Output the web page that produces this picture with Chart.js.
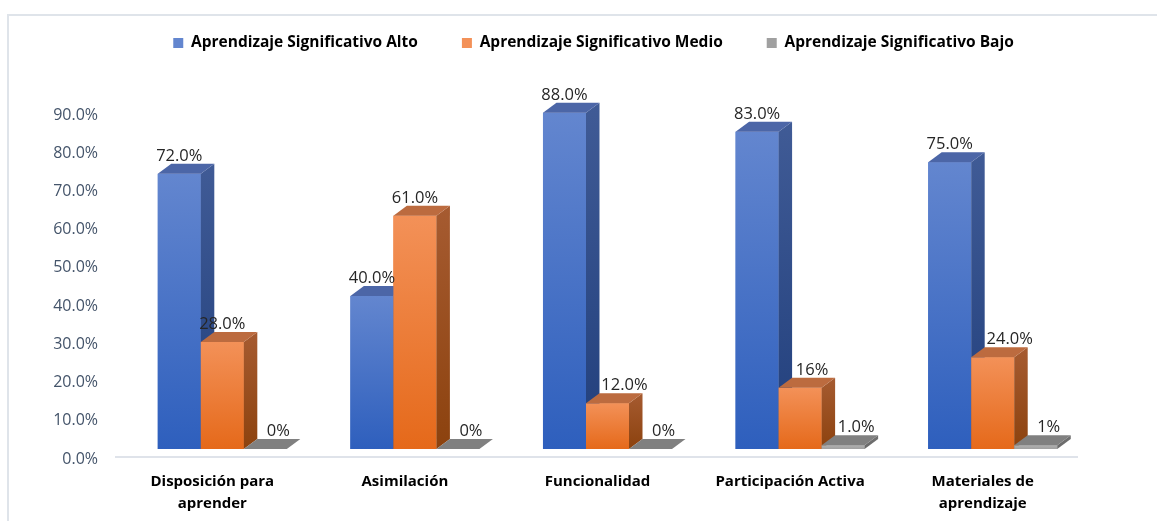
<!DOCTYPE html>
<html><head><meta charset="utf-8">
<script src="https://cdn.jsdelivr.net/npm/chart.js@4.4.1/dist/chart.umd.min.js"></script>
<style>
html,body{margin:0;padding:0;background:#fff;overflow:hidden}
#frame{position:absolute;left:7px;top:14px;width:1200px;height:600px;border-left:2px solid #dfe4ea;border-top:2px solid #dfe4ea}
#wrap{position:absolute;left:0;top:0;width:1157px;height:521px}
</style></head><body>
<div id="frame"></div>
<div id="wrap"><canvas id="c"></canvas></div>
<script>
// ---- data ----
const categories = [['Disposición para', 'aprender'], 'Asimilación', 'Funcionalidad', 'Participación Activa', ['Materiales de', 'aprendizaje']];
const seriesNames = ['Aprendizaje Significativo Alto', 'Aprendizaje Significativo Medio', 'Aprendizaje Significativo Bajo'];
const alto  = [72, 40, 88, 83, 75];
const medio = [28, 61, 12, 16, 24];
const bajo  = [0, 0, 0, 1, 1];
// decimals printed in each value label
const altoDecimals  = [1, 1, 1, 1, 1];
const medioDecimals = [1, 1, 1, 0, 1];
const bajoDecimals  = [0, 0, 0, 1, 0];
const yMax = 90, yStep = 10;

// ---- look ----
const FONT = '"Open Sans", "Liberation Sans", sans-serif';
const DX = 13.5, DY = 10;            // 3D depth of every bar
const looks = [
  { legend: '#4472c4', front: ['#6386cf', '#2e5fbd'], side: ['#405b96', '#213f7c'], top: '#4c66a7' },
  { legend: '#ed7d31', front: ['#f39158', '#e5691a'], side: ['#a65b31', '#8c420e'], top: '#bc6b3f' },
  { legend: '#a5a5a5', front: ['#b0b0b0', '#a0a0a0'], side: ['#707070', '#6a6a6a'], top: '#808080' }
];
// horizontal nudges for value labels, per series
const labelNudge = [[0, 0, 0, 0, 0], [0, 0, 17, 12, 17], [13, 13, 13, 13, 13]];
const decimals = [altoDecimals, medioDecimals, bajoDecimals];

function frontFill(look) {
  return ctx => {
    if (ctx.type !== 'data') return look.legend;
    const chart = ctx.chart, ys = chart.scales.y;
    if (!ys) return look.front[1];
    const yTop = ys.getPixelForValue(ctx.raw), yBase = ys.getPixelForValue(0);
    if (!(yBase - yTop >= 1)) return look.front[1];
    const g = chart.ctx.createLinearGradient(0, yTop, 0, yBase);
    g.addColorStop(0, look.front[0]);
    g.addColorStop(1, look.front[1]);
    return g;
  };
}

// 3D bars: series left to right, each bar's front face followed by its side and top,
// so a bar's front covers the side face of its left neighbour
const depthFaces = {
  id: 'depthFaces',
  afterDatasetsDraw(chart) {
    const ctx = chart.ctx;
    ctx.save();
    chart.data.datasets.forEach((ds, di) => {
      const look = looks[di];
      chart.getDatasetMeta(di).data.forEach(el => {
        el.draw(ctx);
        const { x, y, base, width } = el.getProps(['x', 'y', 'base', 'width'], true);
        const l = x - width / 2, r = x + width / 2;
        const g = ctx.createLinearGradient(0, y - DY, 0, base);
        g.addColorStop(0, look.side[0]);
        g.addColorStop(1, look.side[1]);
        ctx.fillStyle = g;
        ctx.beginPath();
        ctx.moveTo(r, y); ctx.lineTo(r + DX, y - DY); ctx.lineTo(r + DX, base - DY); ctx.lineTo(r, base);
        ctx.closePath(); ctx.fill();
        ctx.fillStyle = look.top;
        ctx.beginPath();
        ctx.moveTo(l, y); ctx.lineTo(r, y); ctx.lineTo(r + DX, y - DY); ctx.lineTo(l + DX, y - DY);
        ctx.closePath(); ctx.fill();
      });
    });
    ctx.restore();
  }
};

// floor line under the bars
const floorLine = {
  id: 'floorLine',
  beforeDatasetsDraw(chart) {
    const { ctx, chartArea: a } = chart;
    ctx.save();
    ctx.strokeStyle = '#dfe3ea';
    ctx.lineWidth = 2;
    ctx.beginPath();
    ctx.moveTo(a.left - 11, a.bottom + 8);
    ctx.lineTo(a.right - 11, a.bottom + 8);
    ctx.stroke();
    ctx.restore();
  }
};

// value labels above the top faces
const valueLabels = {
  id: 'valueLabels',
  afterDatasetsDraw(chart) {
    const ctx = chart.ctx;
    ctx.save();
    ctx.font = '16.5px ' + FONT;
    ctx.fillStyle = '#262626';
    ctx.textAlign = 'center';
    ctx.textBaseline = 'alphabetic';
    chart.data.datasets.forEach((ds, di) => {
      chart.getDatasetMeta(di).data.forEach((el, i) => {
        const v = ds.data[i];
        const txt = v.toFixed(decimals[di][i]) + '%';
        ctx.fillText(txt, el.x + labelNudge[di][i], el.y - DY - 3);
      });
    });
    ctx.restore();
  }
};

// empty layout boxes: a band under the legend and a margin right of the plot
function spacer(position, size, weight) {
  const horizontal = position === 'top' || position === 'bottom';
  return {
    position, weight, fullSize: false,
    options: {},
    top: 0, left: 0, right: 0, bottom: 0, width: 0, height: 0,
    isHorizontal() { return horizontal; },
    update(maxWidth, maxHeight) {
      this.width = horizontal ? maxWidth : size;
      this.height = horizontal ? size : maxHeight;
      return { width: this.width, height: this.height };
    },
    draw() {}
  };
}
const spacers = {
  id: 'spacers',
  beforeInit(chart) {
    Chart.layouts.addBox(chart, spacer('top', 44.25, 500));
    Chart.layouts.addBox(chart, spacer('right', 68, 500));
  }
};

new Chart(document.getElementById('c'), {
  type: 'bar',
  data: {
    labels: categories,
    datasets: [alto, medio, bajo].map((d, i) => ({
      label: seriesNames[i],
      data: d,
      backgroundColor: frontFill(looks[i]),
      borderWidth: 0,
      clip: false,
      barPercentage: 1,
      categoryPercentage: 0.67
    }))
  },
  options: {
    responsive: true,
    maintainAspectRatio: false,
    animation: false,
    events: [],
    layout: { padding: { left: 30, right: 0, top: -8.75, bottom: 0 } },
    plugins: {
      tooltip: { enabled: false },
      legend: {
        position: 'top',
        align: 'center',
        labels: {
          boxWidth: 10, boxHeight: 10, padding: 44,
          color: '#000',
          font: { family: FONT, size: 15.5, weight: 'bold' }
        }
      }
    },
    scales: {
      x: {
        grid: { display: false, drawTicks: false },
        border: { display: false },
        afterFit(s) { s.height = 72; },
        ticks: {
          padding: 21,
          labelOffset: -10,
          maxRotation: 0,
          autoSkip: false,
          color: '#000',
          font: { family: FONT, size: 15, weight: 'bold', lineHeight: 1.5 }
        }
      },
      y: {
        min: 0, max: yMax,
        grid: { display: false, drawTicks: false },
        border: { display: false },
        afterFit(s) { s.width = 96; },
        ticks: {
          stepSize: yStep,
          padding: 28,
          labelOffset: 10,
          color: '#44546a',
          font: { family: FONT, size: 16 },
          callback: v => v.toFixed(1) + '%'
        }
      }
    }
  },
  plugins: [spacers, floorLine, depthFaces, valueLabels]
});
</script>
</body></html>
